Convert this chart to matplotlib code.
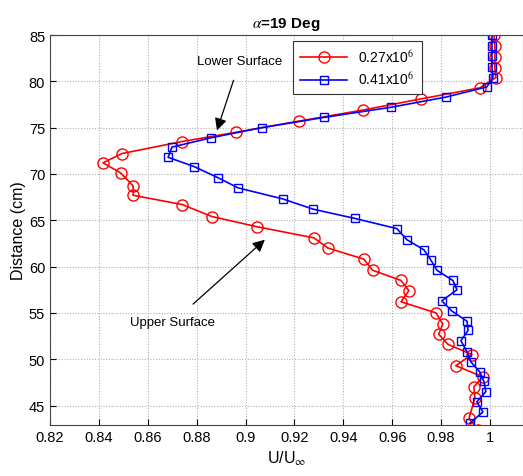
import numpy as np
import matplotlib
matplotlib.use('Agg')
import matplotlib.pyplot as plt

plt.rcParams['font.family'] = ['Liberation Sans', 'DejaVu Sans']
plt.rcParams['mathtext.fontset'] = 'stix'

# velocity profile, Re = 0.27x10^6 (circles)
u_027 = [1.0016, 1.002, 1.002, 1.002, 1.0024, 0.9959, 0.9717, 0.948, 0.9218, 0.8961,
         0.874, 0.8494, 0.8417, 0.849, 0.854, 0.854, 0.874, 0.8863, 0.9047, 0.928,
         0.9337, 0.9484, 0.952, 0.9636, 0.9668, 0.9636, 0.9779, 0.9807, 0.979, 0.9828,
         0.9926, 0.986, 0.997, 0.9934, 0.9938, 0.9914, 0.995]
y_027 = [85.0, 83.8, 82.6, 81.4, 80.4, 79.3, 78.1, 76.9, 75.7, 74.5,
         73.5, 72.2, 71.2, 70.1, 68.7, 67.7, 66.7, 65.4, 64.3, 63.1,
         62.0, 60.8, 59.6, 58.5, 57.4, 56.2, 55.0, 53.8, 52.7, 51.6,
         50.5, 49.3, 48.1, 47.0, 45.8, 43.6, 42.4]

# velocity profile, Re = 0.41x10^6 (squares)
u_041 = [1.0008, 1.0008, 1.0008, 1.0008, 1.0012, 0.9987, 0.982, 0.9595, 0.932, 0.9067,
         0.8858, 0.8699, 0.8683, 0.8789, 0.8887, 0.8969, 0.9153, 0.9276, 0.9447, 0.9619,
         0.966, 0.973, 0.9758, 0.9783, 0.9848, 0.9865, 0.9803, 0.9844, 0.9906, 0.991,
         0.9881, 0.9906, 0.9922, 0.9959, 0.9975, 0.9983, 0.9946, 0.9971, 0.9918]
y_041 = [85.0, 83.8, 82.7, 81.5, 80.4, 79.4, 78.3, 77.2, 76.1, 75.0,
         73.9, 72.9, 71.8, 70.8, 69.6, 68.5, 67.3, 66.2, 65.2, 64.1,
         62.9, 61.8, 60.7, 59.6, 58.5, 57.5, 56.3, 55.2, 54.1, 53.1,
         52.0, 50.8, 49.7, 48.6, 47.6, 46.5, 45.4, 44.3, 43.1]

x_ticks = [0.82, 0.84, 0.86, 0.88, 0.9, 0.92, 0.94, 0.96, 0.98, 1]
x_ticklabels = ['0.82', '0.84', '0.86', '0.88', '0.9', '0.92', '0.94', '0.96', '0.98', '1']
y_ticks = [45, 50, 55, 60, 65, 70, 75, 80, 85]

fig = plt.figure(figsize=(5.23, 4.77), dpi=100)
ax = fig.add_axes([0.0956, 0.107, 0.9044, 0.8175])

ax.plot(u_027, y_027, '-o', color='red', lw=1.2, ms=8, mfc='none', mew=1.0,
        label='0.27x10$^6$')
ax.plot(u_041, y_041, '-s', color='blue', lw=1.2, ms=5.8, mfc='none', mew=1.0,
        label='0.41x10$^6$')

ax.set_xlim(0.82, 1.0135)
ax.set_ylim(42.9, 85)
ax.set_xticks(x_ticks)
ax.set_xticklabels(x_ticklabels)
ax.set_yticks(y_ticks)
ax.tick_params(direction='in', labelsize=10.5, length=4, top=False, right=False)
ax.grid(True, linestyle=(0, (1, 1.5)), color='#b0b0b0', lw=0.8)
for s in ax.spines.values():
    s.set_color('#444444')

ax.set_title(r'$\alpha$=19 Deg', fontsize=11, fontweight='bold', pad=6)
ax.set_xlabel(r'U/U$_\infty$', fontsize=11.5, labelpad=4)
ax.set_ylabel('Distance (cm)', fontsize=11.5, labelpad=2)

ax.annotate('Lower Surface', xy=(0.8883, 74.7), xytext=(0.8977, 82.2),
            ha='center', va='center', fontsize=9.5,
            arrowprops=dict(arrowstyle='-|>', color='black', lw=0.9,
                            mutation_scale=18, shrinkA=8, shrinkB=0))
ax.annotate('Upper Surface', xy=(0.9079, 62.9), xytext=(0.8703, 54.0),
            ha='center', va='center', fontsize=9.5,
            arrowprops=dict(arrowstyle='-|>', color='black', lw=0.9,
                            mutation_scale=18, shrinkA=10, shrinkB=0))

leg = ax.legend(loc='upper left', bbox_to_anchor=(0.514, 0.985), fontsize=10,
                fancybox=False, framealpha=1, edgecolor='#333333',
                handlelength=3.4, borderpad=0.5, labelspacing=0.45,
                borderaxespad=0)
leg.get_frame().set_linewidth(0.8)

fig.savefig('out.png', dpi=100)
